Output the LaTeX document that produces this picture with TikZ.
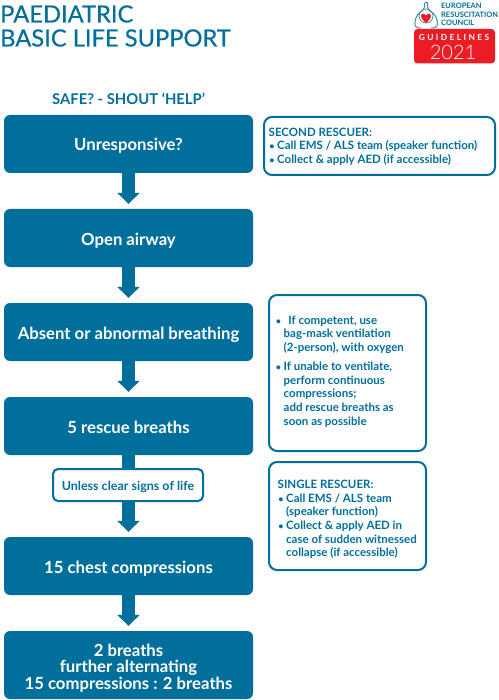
\documentclass[tikz,border=0pt]{standalone}
\usepackage{fontspec}
\setmainfont{Lato}
\usetikzlibrary{arrows.meta}
\definecolor{ercblue}{HTML}{006F9B}
\definecolor{ercred}{HTML}{ED1C24}
\definecolor{lungblue}{HTML}{3E8FB0}
\newcommand{\bul}{\makebox[8.5pt][l]{\hspace*{.6pt}{\fontsize{9}{9}\selectfont •}}}
\newcommand{\ind}{\hspace*{8.5pt}}
\tikzset{
  x=1pt,y=-1pt,
  stepbox/.style={fill=ercblue,rounded corners=6pt,minimum width=249pt,inner sep=0pt,text=white,align=center,font=\fontsize{16.7}{16.6}\selectfont\bfseries},
  oneline/.style={minimum height=58pt,text height=14pt,text depth=0pt},
  notebox/.style={draw=ercblue,fill=white,line width=2pt,rounded corners=8pt,inner sep=0pt,anchor=north west},
  notetext/.style={text=ercblue,anchor=north west,align=left,inner sep=0pt,font=\fontsize{11.5}{13.6}\selectfont\bfseries},
  flow/.style={ercblue,line width=13.5pt},
  flowhead/.style={flow,-{Triangle[length=11pt,width=22pt]},shorten >=5pt},
  titletext/.style={text=ercblue,anchor=base west,inner sep=0pt,font=\fontsize{23.7}{25}\selectfont\addfontfeatures{FakeBold=0.5}},
  logotext/.style={text=ercblue,anchor=base west,inner sep=0pt,font=\fontsize{7.45}{9}\selectfont\bfseries}
}
\begin{document}
\begin{tikzpicture}
\useasboundingbox (0,0) rectangle (498,700);
% title
\node[titletext] (t1) at (0,22.5) {PAEDIATRIC};
\node[titletext] (t2) at (0,46.5) {BASIC LIFE SUPPORT};
% logo
\draw[lungblue,line width=1pt,rounded corners=2pt] (424.5,3) -- (424.5,9) -- (419,13) .. controls (415,18) and (414.5,24) .. (416,28) -- (421,28) ;
\draw[lungblue,line width=1pt,rounded corners=2pt] (427.5,3) -- (427.5,9) -- (433,13) .. controls (437.5,18) and (438,24) .. (436,28) -- (431,28);
\draw[lungblue,line width=1pt] (424.5,3) -- (427.5,3);
\draw[lungblue,line width=.8pt] (426,16) circle (7pt);
\fill[ercred] (426,23) .. controls (421,19) and (420.5,16) .. (421.5,14.5) .. controls (423,13) and (425,13.5) .. (426,15.5) .. controls (427,13.5) and (429,13) .. (430.5,14.5) .. controls (431.5,16) and (431,19) .. (426,23) -- cycle;
\node[logotext] (l1) at (441,8.5) {EUROPEAN};
\node[logotext] (l2) at (441,17.5) {RESUSCITATION};
\node[logotext] (l3) at (441,26) {COUNCIL};
\fill[ercred,rounded corners=3.5pt] (414,29) rectangle (495,63.5);
\node[text=white,inner sep=0pt,font=\fontsize{8.4}{9}\selectfont\bfseries] (l4) at (454,37.5) {G\kern2.4pt U\kern2.4pt I\kern2.4pt D\kern2.4pt E\kern2.4pt L\kern2.4pt I\kern2.4pt N\kern2.4pt E\kern2.4pt S};
\node[text=white,inner sep=0pt,font=\fontsize{20}{22}\selectfont] (l5) at (453,52.5) {\fontspec{Lato Light}2021};
% heading
\node[text=ercblue,anchor=base west,inner sep=0pt,font=\fontsize{14.8}{16}\selectfont\bfseries] (safe) at (52,105) {SAFE? - SHOUT ‘HELP’};
% steps
\node[stepbox,oneline] (s1) at (128.5,144) {Unresponsive?};
\node[stepbox,oneline] (s2) at (128.5,238) {Open airway};
\node[stepbox,oneline] (s3) at (128.5,332) {Absent or abnormal breathing};
\node[stepbox,oneline] (s4) at (128.5,426) {5 rescue breaths};
\node[stepbox,oneline] (s5) at (128.5,566) {15 chest compressions};
\node[stepbox,minimum height=68pt] (s6) at (128.5,665) {\rule{0pt}{18pt}2 breaths\\further alternating\\15 compressions : 2 breaths};
% connectors
\draw[flowhead] (s1.south) -- (s2.north);
\draw[flowhead] (s2.south) -- (s3.north);
\draw[flowhead] (s3.south) -- (s4.north);
\draw[flowhead] (s4.south) -- (s5.north);
\draw[flowhead] (s5.south) -- (s6.north);
\node[draw=ercblue,fill=white,line width=2pt,rounded corners=5pt,minimum width=150pt,minimum height=32pt,inner sep=0pt,text=ercblue,font=\fontsize{12.5}{14}\selectfont\bfseries,text height=10pt,text depth=0pt] (u) at (128,485) {Unless clear signs of life};
% notes
\node[notebox,minimum width=231pt,minimum height=58pt] (n1) at (263,116) {};
\node[notetext] (n1t) at (268.5,127.5) {SECOND RESCUER:\\\bul Call EMS / ALS team (speaker function)\\\bul Collect \& apply AED (if accessible)};
\node[notebox,minimum width=157pt,minimum height=156pt] (n2) at (268,294) {};
\node[notetext] (n2t) at (275,315.5) {\bul\hspace*{2pt} If competent, use\\\ind bag-mask ventilation\\\ind (2-person), with oxygen};
\node[notetext] (n2u) at (275,362) {\bul If unable to ventilate,\\\ind perform continuous\\\ind compressions;\\\ind add rescue breaths as\\\ind soon as possible};
\node[notebox,minimum width=157pt,minimum height=108pt] (n3) at (268,461) {};
\node[notetext] (n3t) at (277.5,480) {SINGLE RESCUER:\\\bul Call EMS / ALS team\\\ind (speaker function)\\\bul Collect \& apply AED in\\\ind case of sudden witnessed\\\ind collapse (if accessible)};
\end{tikzpicture}
\end{document}
